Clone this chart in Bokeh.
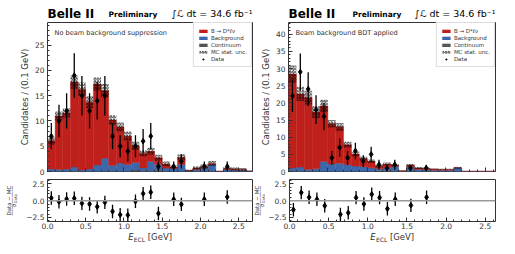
import numpy as np
from bokeh.plotting import figure
from bokeh.models import (ColumnDataSource, Range1d, FixedTicker, Label, Legend,
                          LegendItem, Span, LinearAxis)
from bokeh.layouts import row, column
from bokeh.embed import file_html
from bokeh.resources import INLINE

# ---------------- data (0.1 GeV bins, 0.0 .. 2.7 GeV) ----------------
bin_low = [0.0, 0.1, 0.2, 0.3, 0.4, 0.5, 0.6, 0.7, 0.8, 0.9, 1.0, 1.1, 1.2, 1.3,
           1.4, 1.5, 1.6, 1.7, 1.8, 1.9, 2.0, 2.1, 2.2, 2.3, 2.4, 2.5, 2.6]
bin_width = 0.1

# Left panel: no beam background suppression
left_signal = [5.6, 10.6, 11.1, 16.8, 16.0, 13.2, 16.0, 13.4, 9.0, 7.1, 5.6, 3.3, 2.9, 2.0,
               1.3, 0.8, 0.3, 1.4, 0.1, 0.3, 0.2, 0.2, 0.0, 0.2, 0.2, 0.1, 0.0]
left_background = [0.5, 0.4, 0.5, 0.9, 0.3, 0.5, 1.3, 2.6, 1.2, 1.7, 1.4, 1.5, 0.7, 2.0,
                   1.2, 0.7, 0.6, 1.4, 0.1, 0.4, 0.8, 1.4, 0.05, 0.4, 0.3, 0.3, 0.1]
left_continuum = [0, 0, 0, 0, 0, 0, 0, 0, 0, 0, 0, 0.3, 0, 0,
                  0.2, 0, 0, 0, 0, 0, 0, 0, 0, 0, 0, 0, 0]
left_mc_unc = [0.8, 0.9, 0.9, 1.3, 1.3, 1.2, 1.3, 1.3, 1.0, 0.9, 0.9, 0.8, 0.6, 0.7,
               0.6, 0.5, 0.3, 0.6, 0.2, 0.4, 0.4, 0.5, 0.05, 0.3, 0.3, 0.3, 0.05]
left_data = [7, 10, 12, 19, 15, 12, 14, 15, 7, 5, 4, 5, 6, 7,
             1, 0, 1, 2, 0, 0, 1, 0, 0, 1, 0, 0, 0]
left_data_err = [2.6, 3.2, 3.5, 4.4, 3.9, 3.5, 3.7, 3.9, 2.6, 2.2, 2.0, 2.2, 2.4, 2.6,
                 1.0, 0, 1.0, 1.4, 0, 0, 1.0, 0, 0, 1.0, 0, 0, 0]
left_pull = [0.4, -0.15, 0.25, 0.35, -0.4, -0.5, -0.9, -0.25, -1.6, -2.1, -2.15, -0.1, 1.05, 1.25,
             -1.9, None, 0.2, -0.55, None, None, 0.2, None, None, 0.55, None, None, None]

# Right panel: beam background BDT applied
right_signal = [27.4, 21.3, 20.9, 16.5, 16.2, 11.7, 10.6, 5.8, 3.5, 2.4, 1.9, 0.8, 1.1, 0.3,
                0.1, 0.5, 0.4, 0.4, 0.3, 0.2, 0.2, 0.1, 0.05, 0.05, 0.05, 0.05, 0.05]
right_background = [1.0, 1.3, 0.6, 0.8, 2.9, 2.2, 2.4, 2.0, 1.6, 1.4, 1.1, 0.5, 0.8, 1.5,
                    0.1, 1.3, 0.6, 0.5, 0.4, 0.4, 0.4, 1.0, 0.05, 0.05, 0.05, 0.05, 0.05]
right_continuum = [0, 0, 0, 0, 0, 0, 0, 0, 0, 0, 0, 0.3, 0.3, 0,
                   0, 0, 0, 0, 0, 0, 0, 0, 0, 0, 0, 0, 0]
right_mc_unc = [2.5, 2.1, 2.0, 1.7, 1.8, 1.1, 1.1, 0.9, 0.7, 0.6, 0.5, 0.4, 0.4, 0.4,
                0.1, 0.4, 0.3, 0.3, 0.2, 0.2, 0.2, 0.3, 0.05, 0.05, 0.05, 0.05, 0.05]
right_data = [22, 29, 24, 18, 16, 4, 7, 4, 6, 3, 5, 2, 1, 2,
              0, 1, 0, 1, 0, 0, 0, 0, 0, 0, 0, 0, 0]
right_data_err = [4.7, 5.4, 4.9, 4.2, 4.0, 2.0, 2.6, 2.0, 2.4, 1.7, 2.2, 1.4, 1.0, 1.4,
                  0, 1.0, 0, 1.0, 0, 0, 0, 0, 0, 0, 0, 0, 0]
right_pull = [-1.35, 1.2, 0.5, 0.2, -0.75, None, -2.05, -1.8, 0.45, -0.5, 0.95, 0.45, -1.2, 0.2,
              None, -0.7, None, 0.5, None, None, None, None, None, None, None, None, None]
pull_err = 1.0

x_major = [0.0, 0.5, 1.0, 1.5, 2.0, 2.5]
x_major_labels = ["0.0", "0.5", "1.0", "1.5", "2.0", "2.5"]
x_minor = [0.0, 0.1, 0.2, 0.3, 0.4, 0.5, 0.6, 0.7, 0.8, 0.9, 1.0, 1.1, 1.2, 1.3, 1.4,
           1.5, 1.6, 1.7, 1.8, 1.9, 2.0, 2.1, 2.2, 2.3, 2.4, 2.5, 2.6, 2.7]
pull_major = [-2.5, 0.0, 2.5]
pull_major_labels = ["\u22122.5", "0.0", "2.5"]
pull_minor = [-3.0, -2.5, -2.0, -1.5, -1.0, -0.5, 0, 0.5, 1.0, 1.5, 2.0, 2.5, 3.0]
PULL_LO, PULL_HI = -3.1, 3.15

legend_labels = ["B \u2192 D*\u2113\u03bd", "Background", "Continuum", "MC stat. unc.", "Data"]

RED = "#c0201b"
BLUE = "#3c67aa"
GRAY = "#555555"
FONT = "DejaVu Sans"
TXT = "#333333"
FRAME = "#333333"


def style_common(p):
    p.grid.visible = False
    p.outline_line_color = FRAME
    p.outline_line_width = 1
    p.background_fill_color = "white"
    p.border_fill_color = "white"


def style_axis(ax, tick_in=4, minor_in=2):
    ax.axis_line_color = None
    ax.major_tick_in = tick_in
    ax.major_tick_out = 0
    ax.minor_tick_in = minor_in
    ax.minor_tick_out = 0
    ax.major_tick_line_color = FRAME
    ax.minor_tick_line_color = FRAME
    ax.major_label_text_font = FONT
    ax.major_label_text_color = TXT
    ax.major_label_text_font_size = "7.5px"


def text_strip(width, height, xr, yr, bl=0, br=0, bt=0, bb=0):
    s = figure(width=width, height=height, x_range=Range1d(*xr), y_range=Range1d(*yr),
               x_axis_type=None, y_axis_type=None, output_backend="svg",
               toolbar_location=None, title=None,
               min_border_left=bl, min_border_right=br, min_border_top=bt, min_border_bottom=bb)
    s.outline_line_color = None
    s.grid.visible = False
    s.background_fill_color = "white"
    s.border_fill_color = "white"
    return s


# header strip: frame coincides with the plot frame; x range in page pixels
def make_header(width, bl, br, px0, px1, x_prelim, x_lumi_right):
    s = text_strip(width, 22, (px0, px1), (0, 22), bl=bl, br=br)
    s.add_layout(Label(x=px0, y=8.4, text="Belle II", text_font=FONT,
                       text_font_style="bold", text_font_size="12px", text_color="black",
                       text_baseline="alphabetic"))
    s.add_layout(Label(x=x_prelim, y=8.4, text="Preliminary", text_font=FONT,
                       text_font_style="bold", text_font_size="7.5px", text_color="black",
                       text_baseline="alphabetic"))
    s.add_layout(Label(x=x_lumi_right, y=8.6, text="\u222b\u2112 dt = 34.6 fb\u207b\u00b9",
                       text_font=FONT, text_font_size="9.5px", text_color="black",
                       text_align="right", text_baseline="alphabetic"))
    return s


def make_xlabel(width, bl, br, px0, px1, x_start):
    s = text_strip(width, 23, (px0, px1), (0, 23), bl=bl, br=br)
    s.add_layout(Label(x=x_start, y=17.5, text="E", text_font=FONT, text_font_style="italic",
                       text_font_size="8.5px", text_color=TXT, text_baseline="alphabetic"))
    s.add_layout(Label(x=x_start + 5.6, y=15.5, text="ECL", text_font=FONT,
                       text_font_size="6px", text_color=TXT, text_baseline="alphabetic"))
    s.add_layout(Label(x=x_start + 19.6, y=17.5, text="[GeV]", text_font=FONT,
                       text_font_size="8.5px", text_color=TXT, text_baseline="alphabetic"))
    return s


# rotated fraction label (Data - MC) / sigma_Data ; y in pull units, x in strip pixels
def make_frac(width, xc):
    s = text_strip(width, 56, (0, width), (PULL_LO, PULL_HI), bt=4, bb=10)
    yc = 0.0
    k = 6.25 / 42.0  # pull units per pixel
    s.add_layout(Label(x=xc - 3, y=yc, text="Data \u2212 MC", text_font=FONT,
                       text_font_size="5.5px", text_color=TXT, angle=np.pi / 2,
                       text_align="center", text_baseline="middle"))
    s.add_layout(Label(x=xc, y=yc, text="\u2014\u2014\u2014\u2014\u2014", text_font=FONT,
                       text_font_size="6px", text_color=TXT, angle=np.pi / 2,
                       text_align="center", text_baseline="middle"))
    s.add_layout(Label(x=xc + 2.6, y=yc - 4.8 * k, text="\u03c3", text_font=FONT,
                       text_font_size="5.5px", text_color=TXT, angle=np.pi / 2,
                       text_align="center", text_baseline="middle"))
    s.add_layout(Label(x=xc + 4.0, y=yc + 1.9 * k, text="Data", text_font=FONT,
                       text_font_size="4px", text_color=TXT, angle=np.pi / 2,
                       text_align="center", text_baseline="middle"))
    return s


def make_main(sig, bkg, cont, unc, data, derr, xmax, ymax, yticks, note, width, bl, br):
    src = ColumnDataSource(dict(x=[b + bin_width / 2 for b in bin_low],
                                cont=cont, bkg=bkg, sig=sig))
    total = np.array(cont) + np.array(bkg) + np.array(sig)
    usrc = ColumnDataSource(dict(x=[b + bin_width / 2 for b in bin_low],
                                 lo=total - np.array(unc), hi=total + np.array(unc)))
    p = figure(width=width, height=153, x_range=Range1d(0, xmax), y_range=Range1d(0, ymax),
               output_backend="svg", toolbar_location=None, title=None,
               min_border_left=bl, min_border_right=br, min_border_top=0, min_border_bottom=4)
    style_common(p)
    rs = p.vbar_stack(["cont", "bkg", "sig"], x="x", width=bin_width, source=src,
                      fill_color=[GRAY, BLUE, RED], line_color=[GRAY, BLUE, RED], line_width=0.4)
    ru = p.vbar(x="x", width=bin_width, bottom="lo", top="hi", source=usrc,
                fill_alpha=0, line_color=None, hatch_pattern="/", hatch_color="black",
                hatch_scale=3.2, hatch_weight=0.8, hatch_alpha=1.0)
    xs = [b + bin_width / 2 for b, d in zip(bin_low, data) if d > 0]
    ys = [d for d in data if d > 0]
    es = [e for e, d in zip(derr, data) if d > 0]
    dsrc = ColumnDataSource(dict(x=xs, y=ys, lo=[y - e for y, e in zip(ys, es)],
                                 hi=[y + e for y, e in zip(ys, es)]))
    p.segment(x0="x", y0="lo", x1="x", y1="hi", source=dsrc, line_color="black", line_width=1.3)
    rd = p.scatter(x="x", y="y", source=dsrc, marker="diamond", size=5.5, color="black")

    # bottom axis: tick marks only (labels live on the pull panel)
    xa = p.xaxis[0]
    style_axis(xa, tick_in=2, minor_in=2)
    xa.ticker = FixedTicker(ticks=[], minor_ticks=x_minor)
    xa.major_label_standoff = 0
    xa2 = LinearAxis(ticker=FixedTicker(ticks=[], minor_ticks=x_major))
    style_axis(xa2, tick_in=4, minor_in=4)
    xa2.major_label_standoff = 0
    p.add_layout(xa2, "below")

    ya = p.yaxis[0]
    style_axis(ya)
    ya.ticker = FixedTicker(ticks=yticks, minor_ticks=list(range(0, int(ymax) + 1)))
    ya.major_label_standoff = 3
    ya.axis_label = "Candidates / (0.1 GeV)"
    ya.axis_label_text_font = FONT
    ya.axis_label_text_font_style = "normal"
    ya.axis_label_text_font_size = "8.5px"
    ya.axis_label_text_color = TXT
    ya.axis_label_standoff = 2

    leg = Legend(items=[LegendItem(label=legend_labels[0], renderers=[rs[2]]),
                        LegendItem(label=legend_labels[1], renderers=[rs[1]]),
                        LegendItem(label=legend_labels[2], renderers=[rs[0]]),
                        LegendItem(label=legend_labels[3], renderers=[ru]),
                        LegendItem(label=legend_labels[4], renderers=[rd])],
                 location="top_right", margin=0, padding=4, spacing=0,
                 glyph_width=10, glyph_height=4, label_height=7, label_standoff=3,
                 label_text_font=FONT, label_text_font_size="5.5px", label_text_color=TXT,
                 border_line_color="#bbbbbb", border_line_width=0.8,
                 background_fill_color="white", background_fill_alpha=1)
    p.add_layout(leg)
    p.add_layout(Label(x=0, y=ymax, x_offset=7, y_offset=-10.5, text=note,
                       text_font=FONT, text_font_size="6.6px", text_color=TXT,
                       text_baseline="alphabetic"))
    return p


def make_pull(pull, xmax, width, bl, br):
    p = figure(width=width, height=56, x_range=Range1d(0, xmax),
               y_range=Range1d(PULL_LO, PULL_HI),
               output_backend="svg", toolbar_location=None, title=None,
               min_border_left=bl, min_border_right=br, min_border_top=4, min_border_bottom=10)
    style_common(p)
    p.add_layout(Span(location=0, dimension="width", line_color="#999999", line_width=1.5))
    xs = [b + bin_width / 2 for b, v in zip(bin_low, pull) if v is not None]
    ys = [v for v in pull if v is not None]
    src = ColumnDataSource(dict(x=xs, y=ys, lo=[y - pull_err for y in ys],
                                hi=[y + pull_err for y in ys]))
    p.segment(x0="x", y0="lo", x1="x", y1="hi", source=src, line_color="black", line_width=1.3)
    p.scatter(x="x", y="y", source=src, marker="diamond", size=5.5, color="black")
    xa = p.xaxis[0]
    style_axis(xa)
    xa.ticker = FixedTicker(ticks=x_major, minor_ticks=x_minor)
    xa.major_label_overrides = {t: s for t, s in zip(x_major, x_major_labels)}
    xa.major_label_standoff = 1
    ya = p.yaxis[0]
    style_axis(ya)
    ya.ticker = FixedTicker(ticks=pull_major, minor_ticks=pull_minor)
    ya.major_label_overrides = {t: s for t, s in zip(pull_major, pull_major_labels)}
    ya.major_label_standoff = 3
    return p


XMAX_L = 2.68
XMAX_R = 2.63

# left column: page x 0..253, frame 47..252
hdrL = make_header(253, 47, 1, 47, 252, 108, 252)
mL = make_main(left_signal, left_background, left_continuum, left_mc_unc, left_data,
               left_data_err, XMAX_L, 29.5, [0, 5, 10, 15, 20, 25],
               "No beam background suppression", 253, 47, 1)
fracL = make_frac(21, 11)
rL = make_pull(left_pull, XMAX_L, 232, 26, 1)
xlL = make_xlabel(253, 47, 1, 47, 252, 127.7)

# right column: page x 253..515, frame 288..495
hdrR = make_header(262, 35, 20, 288, 495, 352, 495)
mR = make_main(right_signal, right_background, right_continuum, right_mc_unc, right_data,
               right_data_err, XMAX_R, 43.4, [0, 5, 10, 15, 20, 25, 30, 35, 40],
               "Beam background BDT applied", 262, 35, 20)
fracR = make_frac(12, 6)
rR = make_pull(right_pull, XMAX_R, 250, 23, 20)
xlR = make_xlabel(262, 35, 20, 288, 495, 369.8)

layout = row(column(hdrL, mL, row(fracL, rL), xlL),
             column(hdrR, mR, row(fracR, rR), xlR))
open("out.html", "w").write(file_html(layout, INLINE))
